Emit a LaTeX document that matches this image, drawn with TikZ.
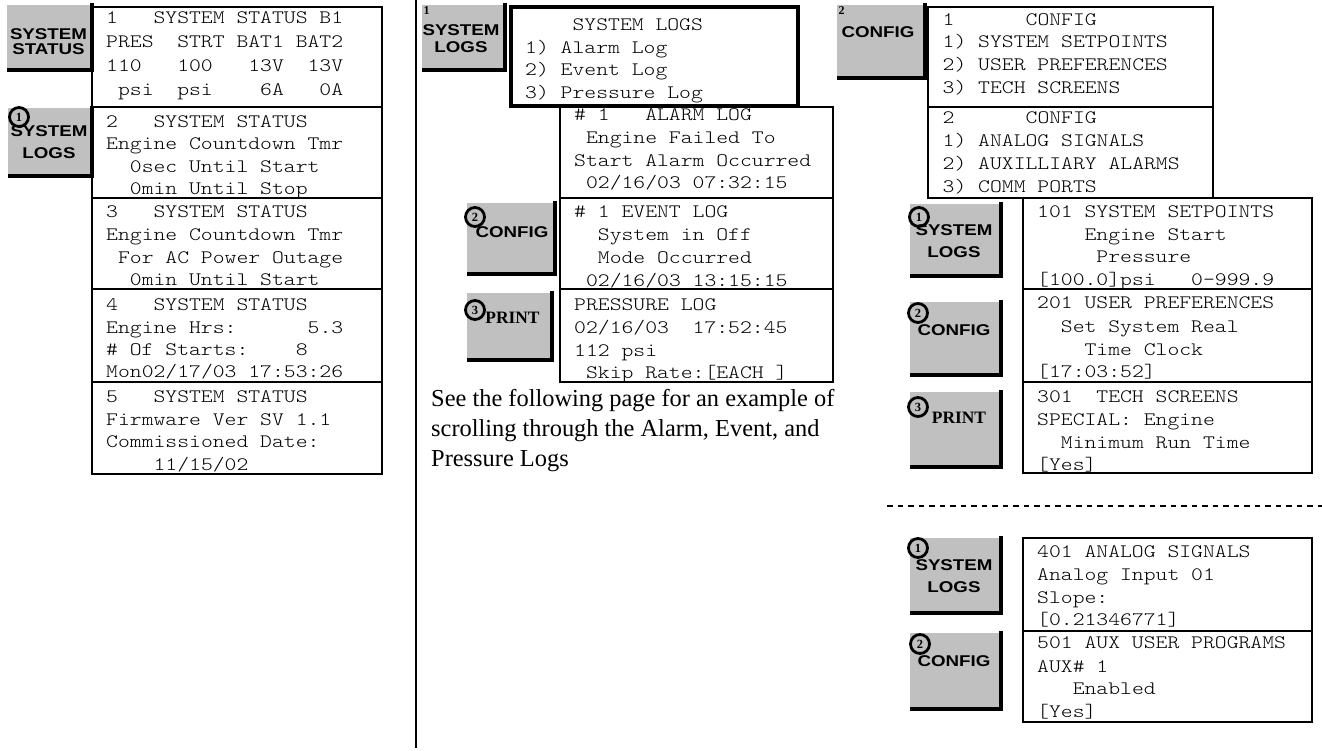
\documentclass[tikz,border=0pt]{standalone}
\usepackage{fontspec}
\setmainfont{Liberation Serif}
\newfontfamily\monof{Latin Modern Mono Light}[FakeStretch=1.188]
\newfontfamily\btnf{Liberation Sans}[FakeStretch=1.2]
\definecolor{btngray}{HTML}{C0C0C0}
\tikzset{
  mono/.style={anchor=base west, inner sep=0pt, font=\monof\fontsize{19}{22}\selectfont\frenchspacing},
  scrbox/.style={draw=black, line width=2.3pt},
  menubox/.style={draw=black, line width=3.2pt},
  btntext/.style={inner sep=0pt, font=\btnf\bfseries\fontsize{15.6}{16}\selectfont},
  prtext/.style={inner sep=0pt, font=\bfseries\fontsize{17.4}{18}\selectfont},
  hdrnum/.style={anchor=north west, inner sep=0pt, font=\bfseries\fontsize{12}{12}\selectfont},
  ring/.style={circle, draw=black, line width=2.8pt, minimum size=19pt, inner sep=0pt, font=\bfseries\fontsize{12.5}{13}\selectfont},
  para/.style={anchor=base west, inner sep=0pt, font=\fontsize{24.4}{29}\selectfont},
  divider/.style={line width=2.5pt},
  sepline/.style={line width=2.5pt, dash pattern=on 5.5pt off 5pt},
}
\newcommand\btnbox[4]{%
  \fill[black] (#3,#2-2) rectangle (#3+4,#4+4);
  \fill[black] (#1,#4) rectangle (#3+4,#4+4);
  \fill[btngray] (#1,#2) rectangle (#3,#4);}
\newcommand\ml[4]{\node[mono] (#1) at (#2,#3) {#4};}
\begin{document}
\begin{tikzpicture}[x=1pt,y=-1pt]
\useasboundingbox (0,0) rectangle (1322,750);
\fill[white] (0,0) rectangle (1322,750);

% vertical divider and dashed separator
\coordinate (vtop) at (416,0);
\coordinate (vbot) at (416,748);
\draw[divider] (vtop) -- (vbot);
\coordinate (dl) at (887,506);
\coordinate (dr) at (1322,506);
\draw[sepline] (dl) -- (dr);

% ---------------- left column ----------------
\btnbox{7}{5}{90}{68}
\node[btntext] (bss1) at (48.5,34) {SYSTEM};
\node[btntext] (bss2) at (48.5,49) {STATUS};
\btnbox{8}{108}{90}{174}
\node[btntext] (bsl1) at (49,131) {SYSTEM};
\node[btntext] (bsl2) at (49,153) {LOGS};
\node[ring] (c1a) at (19,117) {1};

\draw[scrbox] (92,7) rectangle (382,107);
\draw[scrbox] (92,107) rectangle (382,198);
\draw[scrbox] (92,198) rectangle (382,289);
\draw[scrbox] (92,289) rectangle (382,382);
\draw[scrbox] (92,382) rectangle (382,474);

\ml{s1a}{106}{23}{1~~~SYSTEM STATUS B1}
\ml{s1b}{106}{47}{PRES~~STRT BAT1 BAT2}
\ml{s1c}{106}{71}{110~~~100~~~13V~~13V}
\ml{s1d}{106}{95}{~psi~~psi~~~~6A~~~0A}

\ml{s2a}{106}{127}{2~~~SYSTEM STATUS}
\ml{s2b}{106}{149.5}{Engine Countdown Tmr}
\ml{s2c}{106}{172}{~~0sec Until Start}
\ml{s2d}{106}{194}{~~0min Until Stop}

\ml{s3a}{106}{217}{3~~~SYSTEM STATUS}
\ml{s3b}{106}{240}{Engine Countdown Tmr}
\ml{s3c}{106}{263}{~For AC Power Outage}
\ml{s3d}{106}{285}{~~0min Until Start}

\ml{s4a}{106}{310}{4~~~SYSTEM STATUS}
\ml{s4b}{106}{333}{Engine Hrs:~~~~~~5.3}
\ml{s4c}{106}{355}{\#~Of Starts:~~~~8}
\ml{s4d}{106}{377}{Mon02/17/03 17:53:26}

\ml{s5a}{106}{402}{5~~~SYSTEM STATUS}
\ml{s5b}{106}{425}{Firmware Ver SV 1.1}
\ml{s5c}{106}{447}{Commissioned Date:}
\ml{s5d}{106}{470}{~~~~11/15/02}

% ---------------- middle column ----------------
\btnbox{422}{5}{503}{68}
\node[hdrnum] (h1) at (423.5,6) {1};
\node[btntext] (hsl1) at (461,30) {SYSTEM};
\node[btntext] (hsl2) at (461,47.5) {LOGS};

\btnbox{467}{203}{553}{272}
\node[btntext] (mcf) at (512,232) {CONFIG};
\node[ring] (c2m) at (475,217) {2};
\btnbox{467}{293}{550}{358}
\node[prtext] (mpr) at (512.5,318) {PRINT};
\node[ring] (c3m) at (475,310) {3};

\draw[scrbox] (560,107) rectangle (833,198);
\draw[scrbox] (560,198) rectangle (833,289);
\draw[scrbox] (560,289) rectangle (833,382);
\draw[menubox] (511,7) rectangle (798,106);

\ml{ma}{525}{30}{~~~~SYSTEM LOGS}
\ml{mb}{525}{53}{1) Alarm Log}
\ml{mc}{525}{75}{2) Event Log}
\ml{md}{525}{98}{3) Pressure Log}

\ml{aa}{574}{120}{\#~1~~~ALARM LOG}
\ml{ab}{574}{143}{~Engine Failed To}
\ml{ac}{574}{166}{Start Alarm Occurred}
\ml{ad}{574}{188}{~02/16/03 07:32:15}

\ml{ea}{574}{217}{\#~1 EVENT LOG}
\ml{eb}{574}{240}{~~System in Off}
\ml{ec}{574}{263}{~~Mode Occurred}
\ml{ed}{574}{286}{~02/16/03 13:15:15}

\ml{pa}{574}{310}{PRESSURE LOG}
\ml{pb}{574}{333}{02/16/03~~17:52:45}
\ml{pc}{574}{356}{112 psi}
\ml{pd}{574}{378}{~Skip Rate:[EACH~]}

\node[para] (p1) at (431,406) {See the following page for an example of};
\node[para] (p2) at (431,436) {scrolling through the Alarm, Event, and};
\node[para] (p3) at (431,466) {Pressure Logs};

% ---------------- right column ----------------
\btnbox{837}{5}{923}{76}
\node[hdrnum] (h2) at (838.5,6) {2};
\node[btntext] (hcf) at (878,32) {CONFIG};

\draw[scrbox] (928,7) rectangle (1213,107);
\draw[scrbox] (928,107) rectangle (1213,198);

\ml{ca}{942.5}{25}{1~~~~~~CONFIG}
\ml{cb}{942.5}{47}{1) SYSTEM SETPOINTS}
\ml{cc}{942.5}{70}{2) USER PREFERENCES}
\ml{cd}{942.5}{93}{3) TECH SCREENS}

\ml{da}{942.5}{123}{2~~~~~~CONFIG}
\ml{db}{942.5}{146}{1) ANALOG SIGNALS}
\ml{dc}{942.5}{169}{2) AUXILLIARY ALARMS}
\ml{dd}{942.5}{192}{3) COMM PORTS}

\btnbox{910}{204}{999}{274}
\node[btntext] (rsl1) at (954,230) {SYSTEM};
\node[btntext] (rsl2) at (954,252) {LOGS};
\node[ring] (c1r) at (919,217) {1};
\btnbox{910}{302}{999}{373}
\node[btntext] (rcf) at (954,330) {CONFIG};
\node[ring] (c2r) at (918,313) {2};
\btnbox{910}{392}{999}{465}
\node[prtext] (rpr) at (959,418) {PRINT};
\node[ring] (c3r) at (918,407) {3};

\draw[scrbox] (1023,198) rectangle (1312,289);
\draw[scrbox] (1023,289) rectangle (1312,382);
\draw[scrbox] (1023,382) rectangle (1312,473);

\ml{ra}{1037}{217}{101 SYSTEM SETPOINTS}
\ml{rb}{1037}{240}{~~~~Engine Start}
\ml{rc}{1037}{262}{~~~~~Pressure}
\ml{rd}{1037}{285}{[100.0]psi~~~0-999.9}

\ml{ua}{1037}{308}{201 USER PREFERENCES}
\ml{ub}{1037}{332}{~~Set System Real}
\ml{uc}{1037}{355}{~~~~Time Clock}
\ml{ud}{1037}{377}{[17:03:52]}

\ml{ta}{1037}{402}{301~~TECH SCREENS}
\ml{tb}{1037}{425}{SPECIAL: Engine}
\ml{tc}{1037}{448}{~~Minimum Run Time}
\ml{td}{1037}{470}{[Yes]}

\btnbox{910}{538}{999}{611}
\node[btntext] (bsl3) at (954,565) {SYSTEM};
\node[btntext] (bsl4) at (954,587) {LOGS};
\node[ring] (c1b) at (918,548) {1};
\btnbox{910}{633}{999}{707}
\node[btntext] (bcf) at (954,661) {CONFIG};
\node[ring] (c2b) at (920,644) {2};

\draw[scrbox] (1023,538) rectangle (1312,631);
\draw[scrbox] (1023,631) rectangle (1312,722);

\ml{na}{1037}{557}{401 ANALOG SIGNALS}
\ml{nb}{1037}{580}{Analog Input 01}
\ml{nc}{1037}{603}{Slope:}
\ml{nd}{1037}{625}{[0.21346771]}

\ml{xa}{1037}{648}{501 AUX USER PROGRAMS}
\ml{xb}{1037}{672}{AUX\# 1}
\ml{xc}{1037}{694}{~~~Enabled}
\ml{xd}{1037}{717}{[Yes]}
\end{tikzpicture}
\end{document}
